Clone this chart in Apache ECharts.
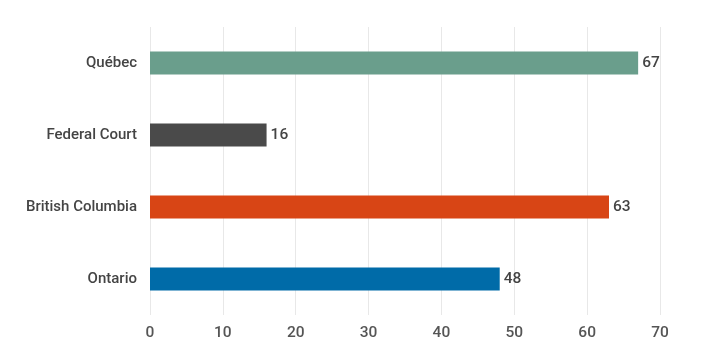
<!DOCTYPE html>
<html>
<head>
<meta charset="utf-8">
<script src="https://cdn.jsdelivr.net/npm/echarts@6/dist/echarts.min.js"></script>
<style>html,body{margin:0;padding:0;background:#fff}#c{width:720px;height:364px}</style>
</head>
<body>
<div id="c"></div>
<script>
const categories = ["Ontario", "British Columbia", "Federal Court", "Québec"];
const values = [48, 63, 16, 67];
const colors = ["#006ba8", "#d84515", "#4a4a4a", "#6a9e8c"];
const xTicks = [0, 10, 20, 30, 40, 50, 60, 70];

const chart = echarts.init(document.getElementById('c'), null, {renderer: 'canvas'});
chart.setOption({
  animation: false,
  grid: {left: 150, right: 60, top: 27, bottom: 49},
  xAxis: {
    type: 'value', min: xTicks[0], max: xTicks[xTicks.length - 1], interval: 10,
    axisLine: {show: false}, axisTick: {show: false},
    splitLine: {show: true, lineStyle: {color: '#e8e8e8', width: 1}},
    axisLabel: {color: '#555', fontSize: 15.5, fontWeight: 500, fontFamily: 'Roboto, sans-serif', margin: 10}
  },
  yAxis: {
    type: 'category', data: categories,
    axisLine: {show: false}, axisTick: {show: false},
    axisLabel: {color: '#444', fontSize: 15, fontWeight: 500, fontFamily: 'Roboto, sans-serif', margin: 13}
  },
  series: [{
    type: 'bar', barWidth: 23,
    data: values.map((v, i) => ({value: v, itemStyle: {color: colors[i]}})),
    label: {show: true, position: 'right', distance: 4, color: '#444', fontSize: 15.5, fontWeight: 500, fontFamily: 'Roboto, sans-serif'}
  }]
});
</script>
</body>
</html>
